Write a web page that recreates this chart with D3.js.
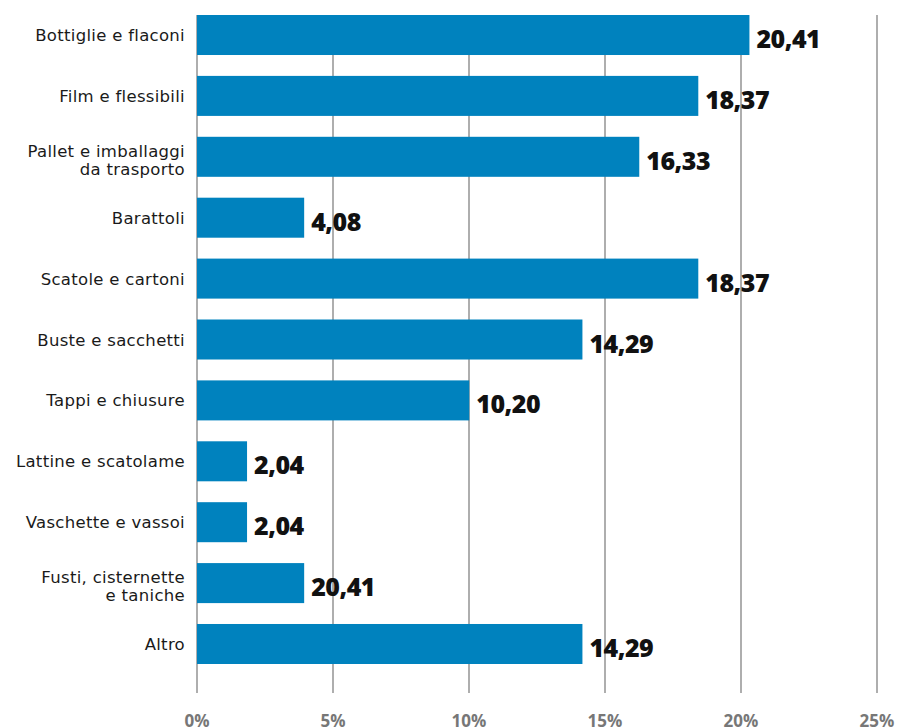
<!DOCTYPE html>
<html>
<head>
<meta charset="utf-8">
<script src="https://cdn.jsdelivr.net/npm/d3@7"></script>
<style>
  body { margin: 0; background: #fff; }
  svg { display: block; }
</style>
</head>
<body>
<div id="chart"></div>
<script>
const categories = [
  ["Bottiglie e flaconi"],
  ["Film e flessibili"],
  ["Pallet e imballaggi", "da trasporto"],
  ["Barattoli"],
  ["Scatole e cartoni"],
  ["Buste e sacchetti"],
  ["Tappi e chiusure"],
  ["Lattine e scatolame"],
  ["Vaschette e vassoi"],
  ["Fusti, cisternette", "e taniche"],
  ["Altro"]
];
// bar lengths
const values = [20.31, 18.43, 16.26, 3.94, 18.43, 14.17, 10.01, 1.84, 1.84, 3.94, 14.17];
// printed labels (as they appear in the source)
const valueLabels = ["20,41", "18,37", "16,33", "4,08", "18,37", "14,29", "10,20", "2,04", "2,04", "20,41", "14,29"];
const ticks = [0, 5, 10, 15, 20, 25];

const W = 898, H = 728;
const x0 = 197, x1 = 877;
const plotTop = 15, plotBottom = 664, gridBottom = 693;

const svg = d3.select("#chart").append("svg")
  .attr("width", W).attr("height", H);

const ids = categories.map((c, i) => i);

const x = d3.scaleLinear().domain([0, 25]).range([x0, x1]);
const y = d3.scaleBand().domain(ids).range([plotTop, plotBottom])
  .paddingInner(0.343).paddingOuter(0);

// grid
svg.append("g")
  .selectAll("line")
  .data(ticks)
  .join("line")
    .attr("x1", d => x(d)).attr("x2", d => x(d))
    .attr("y1", plotTop).attr("y2", gridBottom)
    .attr("stroke", "#8c8c8c")
    .attr("stroke-width", 1.4);

// tick labels
svg.append("g")
  .selectAll("text")
  .data(ticks)
  .join("text")
    .attr("x", d => x(d))
    .attr("y", 727)
    .attr("text-anchor", "middle")
    .attr("font-family", "'Open Sans', sans-serif")
    .attr("font-weight", 700)
    .attr("font-size", 17)
    .attr("fill", "#777")
    .text(d => d + "%");

// bars
svg.append("g")
  .selectAll("rect")
  .data(values)
  .join("rect")
    .attr("x", x(0))
    .attr("y", (d, i) => y(i))
    .attr("width", d => x(d) - x(0))
    .attr("height", y.bandwidth())
    .attr("fill", "#0082be");

// value labels
svg.append("g")
  .selectAll("text")
  .data(values)
  .join("text")
    .attr("x", d => x(d) + 7)
    .attr("y", (d, i) => y(i) + y.bandwidth() / 2 + 13)
    .attr("font-family", "'Open Sans', sans-serif")
    .attr("font-weight", 800)
    .attr("font-size", 25)
    .attr("letter-spacing", -0.5)
    .attr("fill", "#111")
    .text((d, i) => valueLabels[i]);

// category labels
const cat = svg.append("g")
  .selectAll("text")
  .data(categories)
  .join("text")
    .attr("text-anchor", "end")
    .attr("font-family", "'DejaVu Sans', sans-serif")
    .attr("font-size", 16.5)
    .attr("letter-spacing", 0.3)
    .attr("fill", "#1a1a1a")
    .attr("transform", (d, i) => `translate(185, ${y(i) + y.bandwidth() / 2})`);

cat.selectAll("tspan")
  .data(d => d.map((line, k) => ({line, k, n: d.length})))
  .join("tspan")
    .attr("x", 0)
    .attr("y", d => (d.k - (d.n - 1) / 2) * 18 + (d.n - 1) * 3 + 6)
    .text(d => d.line);
</script>
</body>
</html>
